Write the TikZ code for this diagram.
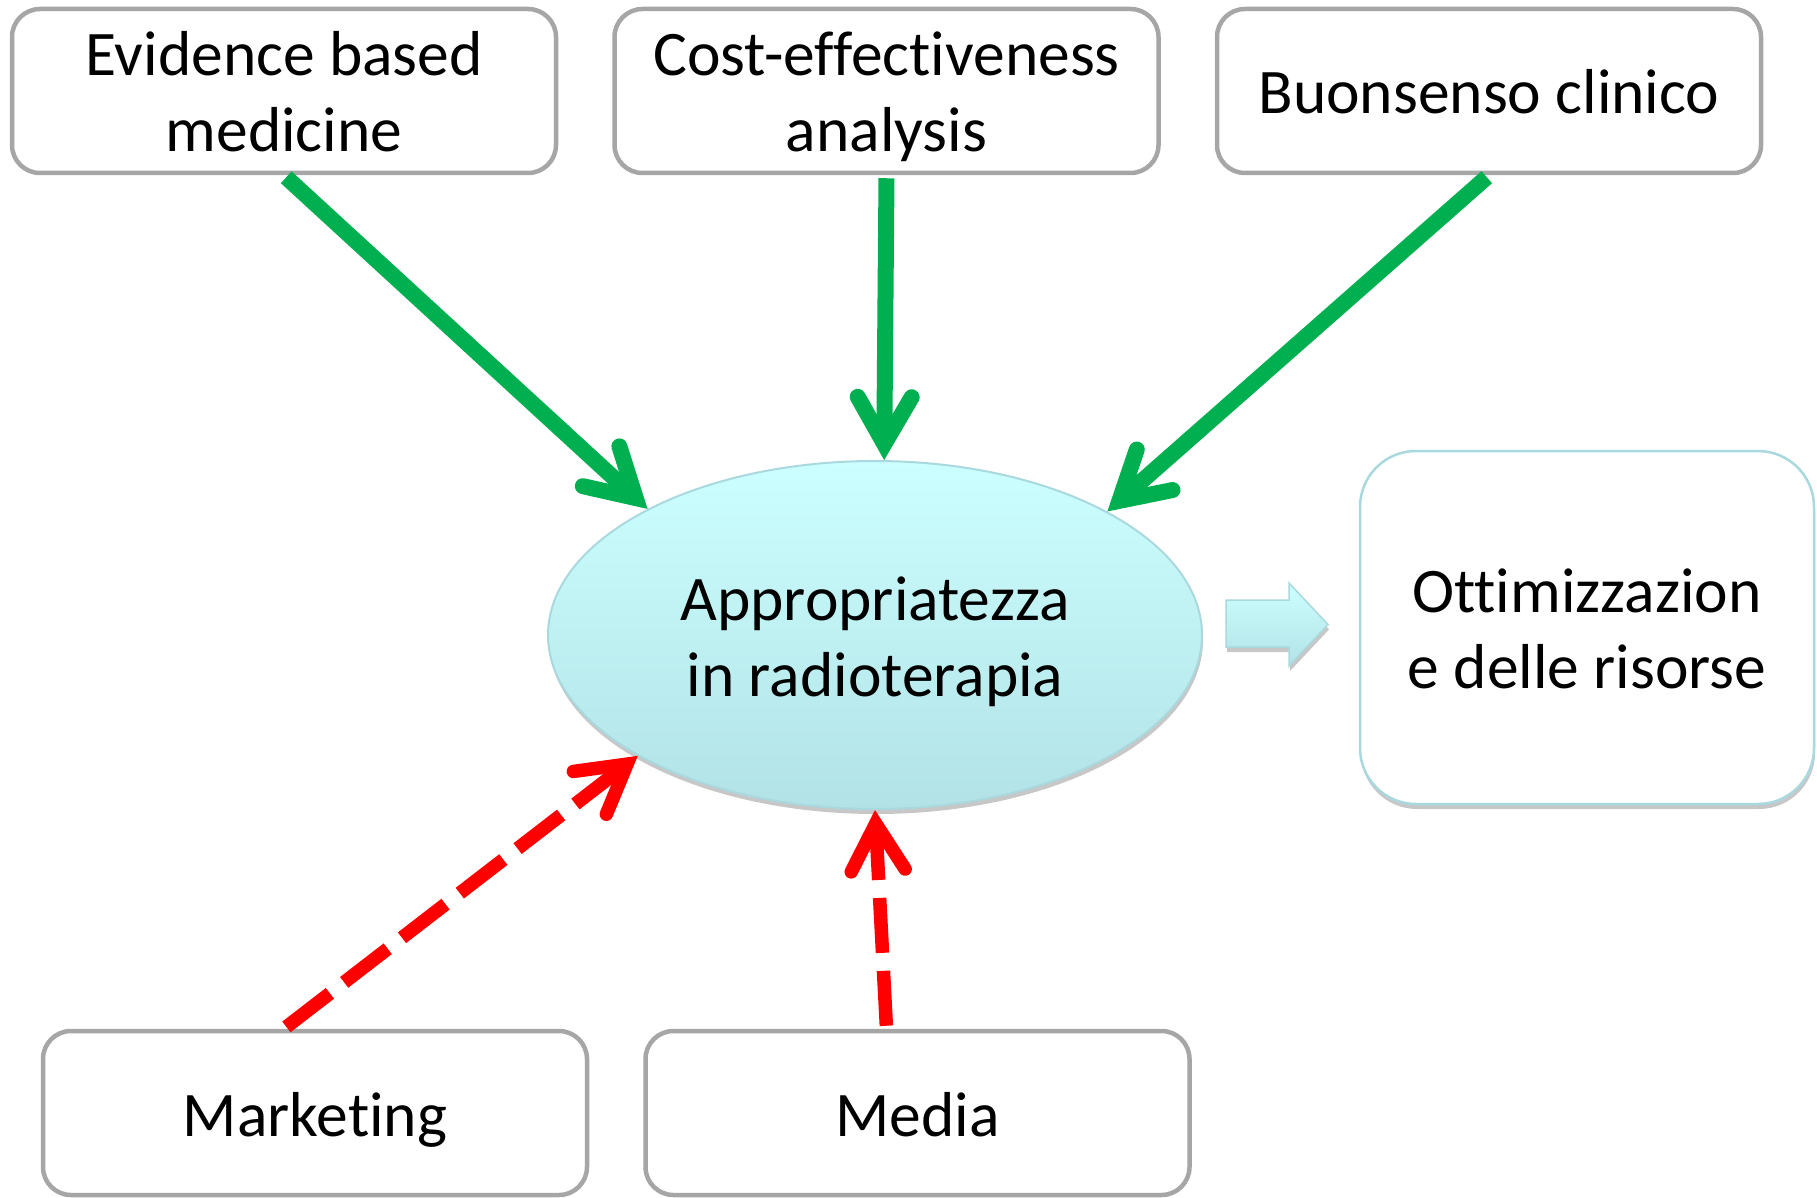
\documentclass[tikz,border=0pt]{standalone}
\usepackage{fontspec}
\setmainfont{Carlito}[Ligatures=NoCommon]
\usetikzlibrary{shapes.geometric,arrows.meta,shadows,calc}
\definecolor{boxgray}{HTML}{A6A6A6}
\definecolor{arrgreen}{HTML}{00B050}
\definecolor{arrred}{HTML}{FF0000}
\definecolor{cyantop}{HTML}{CCFFFF}
\definecolor{cyanbot}{HTML}{B2E2E6}
\definecolor{cyanline}{HTML}{A9D9DE}
\newcommand{\mytopstrut}{\rule{0pt}{60pt}}
\newcommand{\mybotstrut}{\rule[-14pt]{0pt}{14pt}}
\begin{document}
\begin{tikzpicture}[x=1pt,y=-1pt,
  every node/.style={font=\fontsize{63.5}{76}\selectfont, align=center, inner sep=0pt},
  srcbox/.style={draw=boxgray, line width=4.5pt, rounded corners=28pt, fill=white,
    minimum width=544pt, minimum height=164pt},
  softshadow/.style={drop shadow={shadow xshift=1pt, shadow yshift=-5pt, fill=black!22, opacity=1}},
  ellnode/.style={ellipse, draw=cyanline, line width=2pt, top color=cyantop, bottom color=cyanbot,
    minimum width=654pt, minimum height=348pt, softshadow},
  resbox/.style={draw=cyanline, line width=2.5pt, rounded corners=56pt, fill=white,
    minimum width=454pt, minimum height=353pt, softshadow},
  blockarrow/.style={draw=cyanline, line width=1.5pt, top color=cyantop, bottom color=cyanbot, softshadow},
  arrshadow/.style={preaction={draw=black!18, transform canvas={xshift=2pt,yshift=-3pt}}},
  greenarrow/.style={arrshadow, draw=arrgreen, line width=16pt, shorten <=3pt,
    -{Straight Barb[length=47pt, width=54pt, line cap=round, line join=miter]}},
  redarrow/.style={draw=arrred, line width=13.5pt, shorten <=3pt, dash pattern=on 55pt off 18pt,
    -{Straight Barb[length=47pt, width=54pt, line cap=round, line join=miter]}}
]
\useasboundingbox (0,0) rectangle (1817,1198);

% source boxes
\node[srcbox] (b1) at (284,91) {\mytopstrut Evidence based\\medicine\mybotstrut};
\node[srcbox] (b2) at (886.5,91) {\mytopstrut Cost-effectiveness\\analysis\mybotstrut};
\node[srcbox] (b3) at (1489,91) {\mytopstrut Buonsenso clinico\mybotstrut};
\node[srcbox] (mk) at (315,1113) {\mytopstrut Marketing\mybotstrut};
\node[srcbox] (md) at (917.5,1113) {\mytopstrut Media\mybotstrut};

% central ellipse
\node[ellnode] (e) at (875,635) {\mytopstrut Appropriatezza\\in radioterapia\mybotstrut};

% result box
\node[resbox] (r) at (1587,627.5) {\mytopstrut Ottimizzazion\\e delle risorse\mybotstrut};

% block arrow
\path[blockarrow] (1226,600) -- (1289,600) -- (1289,583) -- (1328,624.5)
  -- (1289,666) -- (1289,647) -- (1226,647) -- cycle;

% green arrows
\draw[greenarrow] (b1.south) -- (e.151);
\draw[greenarrow] (b2.south) -- (e.87.4);
\draw[greenarrow] (b3.south) -- (e.28.4);

% red dashed arrows
\coordinate (m0) at (b1.south |- mk.north);
\coordinate (d0) at (b2.south |- md.north);
\draw[redarrow] (m0) -- (e.207.2);
\draw[redarrow] (d0) -- (e.270.6);
\end{tikzpicture}
\end{document}
